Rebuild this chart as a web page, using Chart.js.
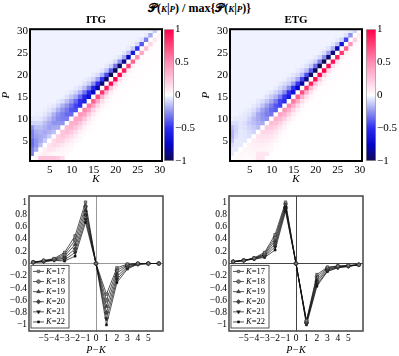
<!DOCTYPE html>
<html>
<head>
<meta charset="utf-8">
<script src="https://cdn.jsdelivr.net/npm/chart.js@4.4.1/dist/chart.umd.min.js"></script>
<style>
body { margin: 0; width: 399px; height: 356px; position: relative; background: #fff; overflow: hidden; font-family: "Liberation Serif", serif; }
canvas { position: absolute; }
#title { position: absolute; top: 1px; left: 0; width: 399px; text-align: center; font-weight: bold; font-size: 12px; }
#title .s { font-size: 9px; font-style: italic; }
</style>
</head>
<body>
<div id="title">𝒫(<span class="s">K</span>|<span class="s">P</span>) / max{𝒫(<span class="s">K</span>|<span class="s">P</span>)}</div>
<canvas id="itgMap" width="200" height="174" style="left:0;top:12px"></canvas>
<canvas id="itgBar" width="42" height="174" style="left:158px;top:12px"></canvas>
<canvas id="etgMap" width="200" height="174" style="left:200px;top:12px"></canvas>
<canvas id="etgBar" width="42" height="174" style="left:360px;top:12px"></canvas>
<canvas id="itgLine" width="200" height="170" style="left:0;top:186px"></canvas>
<canvas id="etgLine" width="200" height="170" style="left:200px;top:186px"></canvas>
<script>
// ---- heatmap data: values along diagonals d = P - K, one entry per K = 1..30
const kValues = Array.from({ length: 30 }, (_, i) => i + 1);
const diagOffsets = [9, 8, 7, 6, 5, 4, 3, 2, 1, 0, -1, -2, -3, -4, -5, -6, -7];
const itgBackground = -0.03;   // far above the diagonal
const etgBackground = -0.03;

const itgDiag = [
  [-0.06,-0.04,-0.03,-0.03,-0.03,-0.03,-0.03,-0.03,-0.03,-0.03,-0.03,-0.03,-0.03,-0.03,-0.03,-0.03,-0.03,-0.03,-0.03,-0.03,-0.03,0,0,0,0,0,0,0,0,0],
  [-0.1,-0.05,-0.04,-0.04,-0.04,-0.03,-0.03,-0.03,-0.03,-0.03,-0.03,-0.03,-0.03,-0.03,-0.03,-0.03,-0.03,-0.03,-0.03,-0.03,-0.03,-0.03,0,0,0,0,0,0,0,0],
  [-0.25,-0.1,-0.06,-0.06,-0.06,-0.05,-0.05,-0.04,-0.04,-0.03,-0.03,-0.03,-0.03,-0.03,-0.03,-0.03,-0.03,-0.03,-0.03,-0.03,-0.03,-0.03,-0.03,0,0,0,0,0,0,0],
  [-0.3,-0.15,-0.1,-0.1,-0.1,-0.1,-0.1,-0.08,-0.07,-0.06,-0.05,-0.04,-0.04,-0.03,-0.03,-0.03,-0.03,-0.03,-0.03,-0.03,-0.03,-0.03,-0.03,-0.03,0,0,0,0,0,0],
  [-0.3,-0.2,-0.15,-0.15,-0.15,-0.18,-0.18,-0.18,-0.15,-0.13,-0.1,-0.08,-0.07,-0.06,-0.05,-0.04,-0.03,-0.03,-0.03,-0.03,-0.03,-0.03,-0.03,-0.03,-0.03,0,0,0,0,0],
  [-0.35,-0.22,-0.18,-0.18,-0.2,-0.22,-0.25,-0.25,-0.25,-0.23,-0.2,-0.18,-0.15,-0.12,-0.1,-0.08,-0.06,-0.05,-0.04,-0.04,-0.03,-0.03,-0.03,-0.03,-0.03,-0.03,0,0,0,0],
  [-0.35,-0.25,-0.2,-0.2,-0.22,-0.25,-0.28,-0.3,-0.32,-0.34,-0.35,-0.35,-0.33,-0.3,-0.26,-0.22,-0.18,-0.14,-0.11,-0.09,-0.07,-0.06,-0.05,-0.04,-0.04,-0.03,-0.03,0,0,0],
  [-0.3,-0.25,-0.2,-0.18,-0.18,-0.2,-0.25,-0.3,-0.35,-0.4,-0.45,-0.5,-0.55,-0.55,-0.55,-0.52,-0.48,-0.43,-0.38,-0.32,-0.26,-0.2,-0.15,-0.12,-0.09,-0.07,-0.05,-0.04,0,0],
  [-0.3,-0.2,-0.15,-0.12,-0.12,-0.15,-0.2,-0.25,-0.3,-0.35,-0.42,-0.5,-0.58,-0.66,-0.74,-0.82,-0.9,-0.96,-1,-1,-0.96,-0.88,-0.76,-0.62,-0.5,-0.4,-0.3,-0.2,-0.12,0],
  [0,0,0,0,0,0,0,0,0,0,0,0,0,0,0,0,0,0,0,0,0,0,0,0,0,0,0,0,0,0],
  [0,0.03,0.05,0.08,0.12,0.15,0.2,0.25,0.3,0.35,0.4,0.46,0.52,0.58,0.65,0.73,0.82,0.9,0.96,1,0.98,0.9,0.78,0.64,0.5,0.38,0.27,0.18,0.1,0.05],
  [0,0,0.25,0.08,0.12,0.16,0.2,0.24,0.28,0.32,0.35,0.38,0.4,0.4,0.4,0.38,0.35,0.3,0.25,0.2,0.15,0.11,0.08,0.06,0.04,0.03,0.02,0.02,0.01,0.01],
  [0,0,0,0.25,0.06,0.1,0.14,0.18,0.2,0.23,0.25,0.25,0.24,0.22,0.2,0.17,0.14,0.11,0.08,0.06,0.04,0.03,0.02,0.02,0.01,0.01,0.01,0.01,0.01,0.01],
  [0,0,0,0,0.25,0.04,0.07,0.1,0.12,0.14,0.15,0.15,0.13,0.11,0.09,0.07,0.05,0.04,0.03,0.02,0.02,0.01,0.01,0.01,0.01,0.01,0.01,0.01,0.01,0.01],
  [0,0,0,0,0,0.25,0.03,0.05,0.06,0.07,0.08,0.07,0.06,0.05,0.04,0.03,0.02,0.02,0.01,0.01,0.01,0.01,0.01,0.01,0.01,0.01,0.01,0.01,0.01,0.01],
  [0,0,0,0,0,0,0.22,0.03,0.03,0.04,0.04,0.03,0.03,0.02,0.02,0.01,0.01,0.01,0.01,0.01,0.01,0.01,0.01,0.01,0.01,0.01,0.01,0.01,0.01,0.01],
  [0,0,0,0,0,0,0,0.15,0.02,0.02,0.02,0.02,0.01,0.01,0.01,0.01,0.01,0.01,0.01,0.01,0.01,0.01,0.01,0.01,0.01,0.01,0.01,0.01,0.01,0.01]
];

const etgDiag = [
  [-0.04,-0.03,-0.03,-0.03,-0.03,-0.03,-0.03,-0.03,-0.03,-0.03,-0.03,-0.03,-0.03,-0.03,-0.03,-0.03,-0.03,-0.03,-0.03,-0.03,-0.03,0,0,0,0,0,0,0,0,0],
  [-0.08,-0.05,-0.04,-0.04,-0.03,-0.03,-0.03,-0.03,-0.03,-0.03,-0.03,-0.03,-0.03,-0.03,-0.03,-0.03,-0.03,-0.03,-0.03,-0.03,-0.03,-0.03,0,0,0,0,0,0,0,0],
  [-0.15,-0.08,-0.05,-0.05,-0.05,-0.05,-0.05,-0.04,-0.04,-0.03,-0.03,-0.03,-0.03,-0.03,-0.03,-0.03,-0.03,-0.03,-0.03,-0.03,-0.03,-0.03,-0.03,0,0,0,0,0,0,0],
  [-0.18,-0.1,-0.06,-0.06,-0.07,-0.08,-0.08,-0.08,-0.07,-0.06,-0.05,-0.05,-0.04,-0.04,-0.03,-0.03,-0.03,-0.03,-0.03,-0.03,-0.03,-0.03,-0.03,-0.03,0,0,0,0,0,0],
  [-0.18,-0.1,-0.06,-0.08,-0.1,-0.12,-0.14,-0.14,-0.13,-0.12,-0.1,-0.09,-0.08,-0.07,-0.06,-0.05,-0.04,-0.04,-0.03,-0.03,-0.03,-0.03,-0.03,-0.03,-0.03,0,0,0,0,0],
  [-0.15,-0.08,-0.05,-0.07,-0.12,-0.16,-0.2,-0.22,-0.22,-0.2,-0.18,-0.16,-0.14,-0.12,-0.1,-0.09,-0.08,-0.07,-0.06,-0.05,-0.04,-0.04,-0.03,-0.03,-0.03,-0.03,0,0,0,0],
  [-0.08,-0.05,-0.05,-0.06,-0.1,-0.15,-0.2,-0.25,-0.28,-0.3,-0.3,-0.3,-0.28,-0.26,-0.23,-0.2,-0.17,-0.15,-0.13,-0.11,-0.09,-0.08,-0.07,-0.06,-0.05,-0.04,-0.04,0,0,0],
  [-0.05,-0.05,-0.05,-0.06,-0.08,-0.12,-0.18,-0.24,-0.3,-0.35,-0.4,-0.45,-0.48,-0.5,-0.5,-0.48,-0.45,-0.42,-0.38,-0.34,-0.3,-0.26,-0.22,-0.18,-0.14,-0.1,-0.07,-0.05,0,0],
  [-0.05,-0.05,-0.05,-0.05,-0.07,-0.1,-0.15,-0.2,-0.26,-0.32,-0.38,-0.45,-0.52,-0.6,-0.68,-0.75,-0.82,-0.9,-0.95,-1,-1,-1,-0.95,-0.9,-0.8,-0.65,-0.45,-0.25,-0.1,0],
  [0,0,0,0,0,0,0,0,0,0,0,0,0,0,0,0,0,0,0,0,0,0,0,0,0,0,0,0,0,0],
  [0,0.02,0.03,0.04,0.06,0.08,0.12,0.17,0.22,0.28,0.34,0.4,0.46,0.52,0.58,0.65,0.72,0.8,0.88,0.95,1,1,0.98,0.95,0.9,0.8,0.65,0.45,0.2,0.08],
  [0,0,0.03,0.03,0.04,0.06,0.09,0.13,0.17,0.22,0.27,0.3,0.33,0.35,0.36,0.36,0.35,0.33,0.3,0.27,0.24,0.2,0.17,0.14,0.11,0.08,0.06,0.04,0.03,0.02],
  [0,0,0,0.02,0.03,0.05,0.07,0.1,0.13,0.16,0.18,0.2,0.2,0.2,0.19,0.17,0.15,0.13,0.11,0.09,0.07,0.06,0.05,0.04,0.03,0.02,0.02,0.01,0.01,0.01],
  [0,0,0,0,0.02,0.03,0.05,0.07,0.09,0.1,0.11,0.11,0.1,0.09,0.08,0.07,0.06,0.05,0.04,0.03,0.02,0.02,0.01,0.01,0.01,0.01,0.01,0.01,0.01,0.01],
  [0,0,0,0,0,0.03,0.1,0.05,0.06,0.07,0.07,0.06,0.05,0.04,0.03,0.02,0.02,0.01,0.01,0.01,0.01,0.01,0.01,0.01,0.01,0.01,0.01,0.01,0.01,0.01],
  [0,0,0,0,0,0,0.12,0.1,0.04,0.04,0.03,0.02,0.02,0.01,0.01,0.01,0.01,0.01,0.01,0.01,0.01,0.01,0.01,0.01,0.01,0.01,0.01,0.01,0.01,0.01],
  [0,0,0,0,0,0,0,0.12,0.1,0.03,0.02,0.02,0.01,0.01,0.01,0.01,0.01,0.01,0.01,0.01,0.01,0.01,0.01,0.01,0.01,0.01,0.01,0.01,0.01,0.01]
];

const mapTicks = [5, 10, 15, 20, 25, 30];
const barTicks = [-1, -0.5, 0, 0.5, 1];

// ---- line plots: P-K offsets and one series per K
const pkOffsets = [-6, -5, -4, -3, -2, -1, 0, 1, 2, 3, 4, 5, 6];
const seriesLabels = ['K=17', 'K=18', 'K=19', 'K=20', 'K=21', 'K=22'];
const itgSeries = [
  [0.02, 0.05, 0.08, 0.18, 0.45, 1.0, 0, -0.5, -0.07, -0.01, 0, 0, 0],
  [0.02, 0.045, 0.07, 0.15, 0.38, 0.93, 0, -0.6, -0.11, -0.02, 0, 0, 0],
  [0.02, 0.04, 0.065, 0.12, 0.31, 0.86, 0, -0.7, -0.16, -0.03, -0.01, 0, 0],
  [0.02, 0.035, 0.06, 0.09, 0.24, 0.79, 0, -0.8, -0.21, -0.05, -0.01, 0, 0],
  [0.02, 0.03, 0.055, 0.06, 0.18, 0.72, 0, -0.9, -0.26, -0.07, -0.01, 0, 0],
  [0.02, 0.03, 0.05, 0.04, 0.12, 0.67, 0, -1.0, -0.31, -0.09, -0.01, 0, 0]
];
const etgSeries = [
  [0.03, 0.05, 0.09, 0.18, 0.47, 1.0, 0, -0.93, -0.18, -0.06, -0.04, -0.03, -0.02],
  [0.03, 0.05, 0.085, 0.16, 0.42, 0.97, 0, -0.94, -0.22, -0.07, -0.045, -0.035, -0.02],
  [0.03, 0.05, 0.08, 0.145, 0.37, 0.94, 0, -0.95, -0.26, -0.09, -0.05, -0.04, -0.02],
  [0.03, 0.05, 0.08, 0.13, 0.32, 0.91, 0, -0.97, -0.3, -0.1, -0.06, -0.04, -0.02],
  [0.03, 0.05, 0.075, 0.115, 0.27, 0.88, 0, -0.98, -0.34, -0.12, -0.065, -0.045, -0.02],
  [0.03, 0.05, 0.07, 0.1, 0.22, 0.85, 0, -1.0, -0.37, -0.13, -0.07, -0.05, -0.02]
];
const lineXTicks = [-5, -4, -3, -2, -1, 0, 1, 2, 3, 4, 5];
const lineYTicks = [-1, -0.8, -0.6, -0.4, -0.2, 0, 0.2, 0.4, 0.6, 0.8, 1];

// ---- styles
const serif = '"Liberation Serif", serif';
Chart.defaults.font.family = serif;
Chart.defaults.color = '#000';
Chart.defaults.animation = false;

const cmap = [
  [-1, [15, 10, 80]], [-0.75, [5, 5, 200]], [-0.5, [45, 45, 240]], [-0.25, [145, 148, 238]],
  [-0.03, [240, 243, 255]], [0, [255, 255, 255]], [0.25, [255, 196, 220]],
  [0.5, [255, 140, 180]], [0.75, [255, 70, 120]], [1, [255, 0, 75]]
];
function colorFor(v) {
  v = Math.max(-1, Math.min(1, v));
  for (let i = 1; i < cmap.length; i++) {
    const [v0, c0] = cmap[i - 1], [v1, c1] = cmap[i];
    if (v <= v1) {
      const t = (v - v0) / (v1 - v0);
      return `rgb(${c0.map((c, j) => Math.round(c + (c1[j] - c) * t)).join(',')})`;
    }
  }
  return 'rgb(255,0,75)';
}

const framePlugin = {
  id: 'frame',
  afterDatasetsDraw(chart, args, opts) {
    const a = chart.chartArea, ctx = chart.ctx;
    ctx.save();
    ctx.strokeStyle = opts.color || '#000';
    ctx.lineWidth = opts.width || 1;
    ctx.strokeRect(a.left, a.top, a.right - a.left, a.bottom - a.top);
    ctx.restore();
  }
};

// legend in a box at the lower left of the plot: line + marker + "K=.."
const boxLegendPlugin = {
  id: 'boxLegend',
  afterDraw(chart) {
    const a = chart.chartArea, ctx = chart.ctx;
    const sets = chart.data.datasets;
    const rowH = 10.1;
    const left = a.left + 2, right = left + 38;
    const bottom = a.bottom - 3, top = bottom - sets.length * rowH - 2;
    ctx.save();
    ctx.fillStyle = '#fff';
    ctx.fillRect(left, top, right - left, bottom - top);
    ctx.strokeStyle = '#555';
    ctx.lineWidth = 1;
    ctx.strokeRect(left, top, right - left, bottom - top);
    ctx.textBaseline = 'middle';
    sets.forEach((ds, i) => {
      const y = top + 1 + rowH * (i + 0.5);
      ctx.strokeStyle = ds.borderColor;
      ctx.lineWidth = ds.borderWidth;
      ctx.beginPath();
      ctx.moveTo(left + 2, y);
      ctx.lineTo(left + 13, y);
      ctx.stroke();
      ctx.fillStyle = ds.pointBackgroundColor;
      ctx.strokeStyle = ds.pointBorderColor;
      ctx.lineWidth = ds.pointBorderWidth;
      Chart.helpers.drawPoint(ctx, { pointStyle: ds.pointStyle, rotation: ds.pointRotation, radius: ds.pointRadius, borderWidth: ds.pointBorderWidth }, left + 7.5, y);
      const [name, num] = ds.label.split('=');
      ctx.fillStyle = '#000';
      ctx.font = 'italic 8.5px ' + serif;
      ctx.fillText(name, left + 15, y);
      const w = ctx.measureText(name).width;
      ctx.font = '8.5px ' + serif;
      ctx.fillText('=' + num, left + 15 + w, y);
    });
    ctx.restore();
  }
};

function heatmap(id, title, diag, bg) {
  const cell = (k, p) => {
    const i = diagOffsets.indexOf(p - k);
    if (i >= 0) return diag[i][k - 1];
    return p > k ? bg : 0;
  };
  const datasets = kValues.map(p => ({
    data: kValues.map(() => [p - 0.5, p + 0.5]),
    backgroundColor: kValues.map(k => colorFor(cell(k, p))),
    grouped: false,
    barPercentage: 1,
    categoryPercentage: 1,
    borderWidth: 0,
    inflateAmount: 0.5
  }));
  return new Chart(document.getElementById(id), {
    type: 'bar',
    data: { labels: kValues, datasets },
    plugins: [framePlugin],
    options: {
      responsive: false,
      layout: { padding: { top: 0, left: 0, right: 38, bottom: 0 } },
      plugins: {
        legend: { display: false },
        tooltip: { enabled: false },
        title: { display: true, text: title, fullSize: false, font: { size: 11, weight: 'bold', family: serif }, padding: { top: 2, bottom: 2 } },
        frame: { color: '#000', width: 2 }
      },
      scales: {
        x: {
          grid: { display: false, drawTicks: false },
          border: { display: false },
          ticks: { autoSkip: false, maxRotation: 0, font: { size: 11 }, padding: 3,
            callback: (v, i) => mapTicks.includes(kValues[i]) ? String(kValues[i]) : '' },
          title: { display: true, text: 'K', font: { size: 11, style: 'italic' }, padding: { top: 0, bottom: 0 } },
          afterFit: s => { s.height = 25; }
        },
        y: {
          min: 0.5, max: 30.5,
          grid: { display: false, drawTicks: false },
          border: { display: false },
          afterBuildTicks: s => { s.ticks = mapTicks.map(v => ({ value: v })); },
          ticks: { font: { size: 11 }, padding: 2 },
          title: { display: true, text: 'P', font: { size: 11, style: 'italic' }, padding: { top: 0, bottom: 0 } },
          afterFit: s => { s.width = 30; }
        }
      }
    }
  });
}

function colorbar(id) {
  return new Chart(document.getElementById(id), {
    type: 'bar',
    data: {
      labels: [''],
      datasets: [{
        data: [[-1, 1]],
        barPercentage: 1,
        categoryPercentage: 1,
        borderColor: '#999',
        borderWidth: 1,
        borderSkipped: false,
        backgroundColor: c => {
          const a = c.chart.chartArea;
          if (!a) return '#fff';
          const g = c.chart.ctx.createLinearGradient(0, a.bottom, 0, a.top);
          cmap.forEach(([v]) => g.addColorStop((v + 1) / 2, colorFor(v)));
          return g;
        }
      }]
    },
    options: {
      responsive: false,
      layout: { padding: { top: 17.2, left: 6, right: 0, bottom: 25 } },
      plugins: { legend: { display: false }, tooltip: { enabled: false } },
      scales: {
        x: { display: false },
        y: {
          position: 'right', min: -1, max: 1,
          grid: { display: false, drawTicks: false },
          border: { display: false },
          afterBuildTicks: s => { s.ticks = barTicks.map(v => ({ value: v })); },
          ticks: { font: { size: 11 }, padding: 1, callback: v => String(v).replace('-', '\u2212') },
          afterFit: s => { s.width = 26; }
        }
      }
    }
  });
}

const markerStyles = [
  { pointStyle: 'rect', fill: '#888', rot: 0, r: 1.8 },
  { pointStyle: 'circle', fill: '#777', rot: 0, r: 1.9 },
  { pointStyle: 'triangle', fill: '#444', rot: 0, r: 2.2 },
  { pointStyle: 'rectRot', fill: '#444', rot: 0, r: 2.2 },
  { pointStyle: 'triangle', fill: '#222', rot: 180, r: 2.2 },
  { pointStyle: 'rect', fill: '#000', rot: 0, r: 1.5 }
];

function lineChart(id, series, zeroColor) {
  const datasets = series.map((vals, i) => ({
    label: seriesLabels[i],
    data: pkOffsets.map((d, j) => ({ x: d, y: vals[j] })),
    borderColor: '#111',
    borderWidth: 0.7,
    pointStyle: markerStyles[i].pointStyle,
    pointRotation: markerStyles[i].rot,
    pointRadius: markerStyles[i].r,
    pointBackgroundColor: markerStyles[i].fill,
    pointBorderColor: '#222',
    pointBorderWidth: 0.5
  }));
  const zeroGrid = { color: c => (c.tick && c.tick.value === 0 ? zeroColor : 'rgba(0,0,0,0)'), drawTicks: false, lineWidth: 1 };
  const fmt = v => (v === 0 ? '0' : String(v).replace('-', '\u2212'));
  return new Chart(document.getElementById(id), {
    type: 'line',
    data: { datasets },
    plugins: [framePlugin, boxLegendPlugin],
    options: {
      responsive: false,
      layout: { padding: { top: 10, left: 0, right: 37, bottom: 0 } },
      plugins: {
        tooltip: { enabled: false },
        frame: { color: '#444', width: 1.5 },
        legend: { display: false }
      },
      scales: {
        x: {
          type: 'linear', min: -6.4, max: 6.4,
          grid: zeroGrid,
          border: { display: false },
          afterBuildTicks: s => { s.ticks = lineXTicks.map(v => ({ value: v })); },
          ticks: { font: { size: 9.5 }, padding: 2, maxRotation: 0, autoSkip: false, callback: fmt },
          title: { display: true, text: 'P\u2212K', font: { size: 10, style: 'italic' }, padding: { top: -2, bottom: 0 } },
          afterFit: s => { s.height = 25; }
        },
        y: {
          min: -1.1, max: 1.1,
          grid: zeroGrid,
          border: { display: false },
          afterBuildTicks: s => { s.ticks = lineYTicks.map(v => ({ value: v })); },
          ticks: { font: { size: 9.5 }, padding: 2, autoSkip: false, callback: fmt },
          afterFit: s => { s.width = 29; }
        }
      }
    }
  });
}

heatmap('itgMap', 'ITG', itgDiag, itgBackground);
colorbar('itgBar');
heatmap('etgMap', 'ETG', etgDiag, etgBackground);
colorbar('etgBar');
lineChart('itgLine', itgSeries, '#999');
lineChart('etgLine', etgSeries, '#444');
</script>
</body>
</html>
